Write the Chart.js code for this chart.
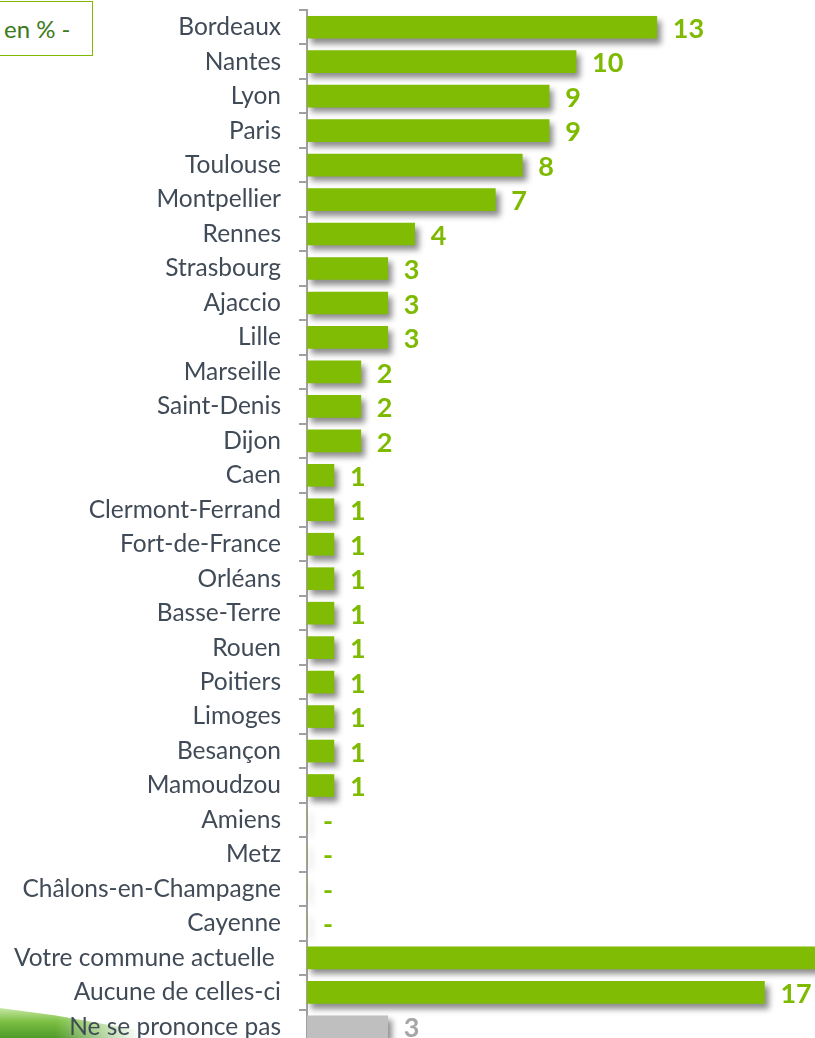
<!DOCTYPE html>
<html>
<head>
<meta charset="utf-8">
<script src="https://cdn.jsdelivr.net/npm/chart.js@4.4.1/dist/chart.umd.min.js"></script>
<style>
    html, body { margin: 0; padding: 0; background: #fff; overflow: hidden; }
    body { width: 815px; height: 1038px; position: relative; }
    #chart { position: absolute; left: 0; top: 0; }
    .unit-box {
        position: absolute; left: -2px; top: 1px; width: 95px; height: 55px;
        border: 1.5px solid #7fba00; box-sizing: border-box;
        font-family: Lato, sans-serif; font-size: 24px; color: #3d7a1c;
        line-height: 54px; padding-left: 5px;
    }
    .swoosh {
        position: absolute; left: 0; top: 1008px; width: 140px; height: 30px;
        clip-path: polygon(0 0, 40% 25%, 100% 75%, 100% 100%, 0 100%);
        background: linear-gradient(to bottom, #c9e8a6 0%, #7cc043 45%, #4f9a2a 100%);
        -webkit-mask-image: linear-gradient(to right, #000 40%, rgba(0,0,0,0) 100%);
        mask-image: linear-gradient(to right, #000 40%, rgba(0,0,0,0) 100%);
    }
</style>
</head>
<body>
<div class="unit-box">en % -</div>
<div class="swoosh"></div>
<canvas id="chart" width="815" height="1044"></canvas>
<script>
"use strict";

// Categories (top to bottom)
var categories = ['Bordeaux', 'Nantes', 'Lyon', 'Paris', 'Toulouse', 'Montpellier', 'Rennes',
    'Strasbourg', 'Ajaccio', 'Lille', 'Marseille', 'Saint-Denis', 'Dijon', 'Caen',
    'Clermont-Ferrand', 'Fort-de-France', 'Orléans', 'Basse-Terre', 'Rouen', 'Poitiers',
    'Limoges', 'Besançon', 'Mamoudzou', 'Amiens', 'Metz', 'Châlons-en-Champagne', 'Cayenne',
    'Votre commune actuelle ', 'Aucune de celles-ci', 'Ne se prononce pas'];

// Values in % (the "Votre commune actuelle" bar runs off the picture, value estimated)
var values = [13, 10, 9, 9, 8, 7, 4, 3, 3, 3, 2, 2, 2, 1, 1, 1, 1, 1, 1, 1, 1, 1, 1,
    0, 0, 0, 0, 30, 17, 3];

// Index of the "no opinion" row, drawn in grey
var noOpinionIndex = categories.length - 1;

var GREEN = '#7fbc03';
var GREY = '#bfbfbf';

var barColors = values.map(function (v, i) { return i === noOpinionIndex ? GREY : GREEN; });
var labelColors = values.map(function (v, i) { return i === noOpinionIndex ? '#a6a6a6' : '#7dba00'; });

// Drop shadow under the bars
var barShadow = {
    id: 'barShadow',
    beforeDatasetDraw: function (chart) {
        var ctx = chart.ctx;
        ctx.save();
        ctx.shadowColor = 'rgba(0, 0, 0, 0.45)';
        ctx.shadowBlur = 6;
        ctx.shadowOffsetX = 4;
        ctx.shadowOffsetY = 5;
    },
    afterDatasetDraw: function (chart) {
        chart.ctx.restore();
    }
};

// Value labels at the end of each bar
var valueLabels = {
    id: 'valueLabels',
    afterDatasetsDraw: function (chart) {
        var ctx = chart.ctx;
        var meta = chart.getDatasetMeta(0);
        ctx.save();
        ctx.font = 'bold 27px Lato, sans-serif';
        ctx.textAlign = 'left';
        ctx.textBaseline = 'middle';
        meta.data.forEach(function (bar, i) {
            var v = values[i];
            ctx.fillStyle = labelColors[i];
            ctx.fillText(v === 0 ? '-' : String(v), bar.x + 16, bar.y + 2);
        });
        ctx.restore();
    }
};

var ctx = document.getElementById('chart').getContext('2d');
new Chart(ctx, {
    type: 'bar',
    data: {
        labels: categories,
        datasets: [{
            data: values,
            backgroundColor: barColors,
            borderWidth: 0,
            barThickness: 22
        }]
    },
    options: {
        indexAxis: 'y',
        responsive: false,
        animation: false,
        layout: { padding: { top: 10, right: 0, bottom: 0, left: 0 } },
        scales: {
            x: {
                display: false,
                min: 0,
                max: 18.88
            },
            y: {
                afterFit: function (scale) {
                    scale.width = 307;
                    scale.paddingTop = 0;
                    scale.paddingBottom = 0;
                },
                border: { display: true, color: '#a0a0a0', width: 2 },
                grid: {
                    offset: true,
                    drawOnChartArea: false,
                    drawTicks: true,
                    tickLength: 8,
                    color: '#a0a0a0',
                    lineWidth: 2
                },
                ticks: {
                    padding: 18,
                    color: '#404b57',
                    font: { family: 'Lato', size: 24.5 },
                    autoSkip: false
                }
            }
        },
        plugins: {
            legend: { display: false },
            tooltip: { enabled: false }
        }
    },
    plugins: [barShadow, valueLabels]
});
</script>
</body>
</html>
